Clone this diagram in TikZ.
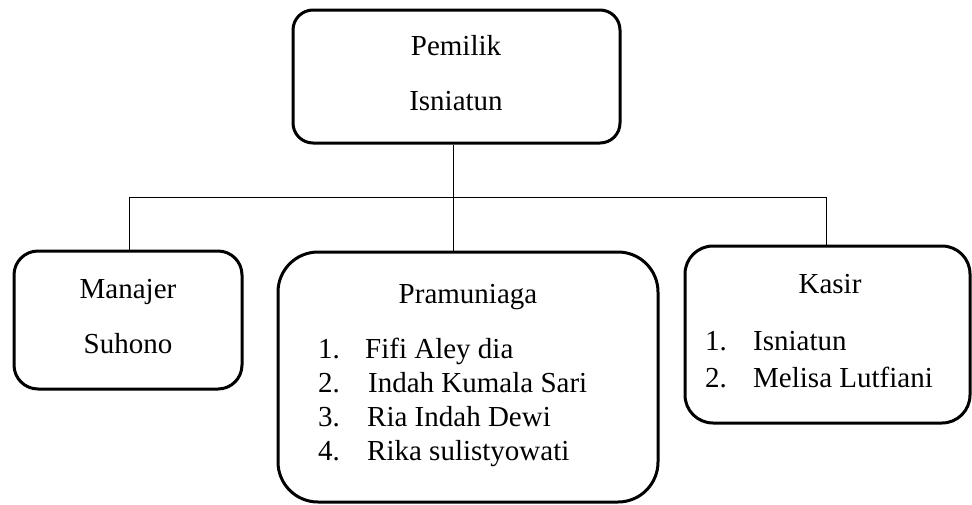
\documentclass[tikz,border=0pt]{standalone}
\usepackage{fontspec}
\setmainfont{Liberation Serif}
\begin{document}
\begin{tikzpicture}[x=1pt,y=-1pt,
  box/.style={draw=black,line width=3pt,inner sep=0pt,fill=none},
  conn/.style={draw=black,line width=1pt},
  txt/.style={inner sep=0pt,font=\fontsize{29}{34}\selectfont},
]
\useasboundingbox (0,0) rectangle (972,504);
% boxes
\node[box,minimum width=327pt,minimum height=133pt,rounded corners=20pt] (top) at (456.5,76.5) {};
\node[box,minimum width=228pt,minimum height=138pt,rounded corners=24pt] (man) at (128,320) {};
\node[box,minimum width=380pt,minimum height=250pt,rounded corners=40pt] (pram) at (468,377) {};
\node[box,minimum width=285pt,minimum height=177pt,rounded corners=28pt] (kas) at (827.5,334.5) {};
% connectors
\coordinate (hl) at (129,197);
\coordinate (hr) at (826,197);
\coordinate (v) at (453,197);
\draw[conn] (top.south -| v) -- (pram.north -| v);
\draw[conn] (man.north -| hl) -- (hl) -- (hr) -- (kas.north -| hr);
% texts
\node[txt,anchor=base] (t1) at (456,55) {Pemilik};
\node[txt,anchor=base] (t2) at (456,110) {Isniatun};
\node[txt,anchor=base] (m1) at (128,298) {Manajer};
\node[txt,anchor=base] (m2) at (128,353) {Suhono};
\node[txt,anchor=base] (p0) at (468,303) {Pramuniaga};
\node[txt,anchor=base west] (pn1) at (318,358) {1.};
\node[txt,anchor=base west] (pa1) at (365,358) {Fifi Aley dia};
\node[txt,anchor=base west] (pn2) at (318,392) {2.};
\node[txt,anchor=base west] (pa2) at (368,392) {Indah Kumala Sari};
\node[txt,anchor=base west] (pn3) at (318,426) {3.};
\node[txt,anchor=base west] (pa3) at (367,426) {Ria Indah Dewi};
\node[txt,anchor=base west] (pn4) at (318,460) {4.};
\node[txt,anchor=base west] (pa4) at (367,460) {Rika sulistyowati};
\node[txt,anchor=base] (k0) at (830,293) {Kasir};
\node[txt,anchor=base west] (kn1) at (705,350) {1.};
\node[txt,anchor=base west] (ka1) at (753,350) {Isniatun};
\node[txt,anchor=base west] (kn2) at (705,387) {2.};
\node[txt,anchor=base west] (ka2) at (753,387) {Melisa Lutfiani};
\end{tikzpicture}
\end{document}
